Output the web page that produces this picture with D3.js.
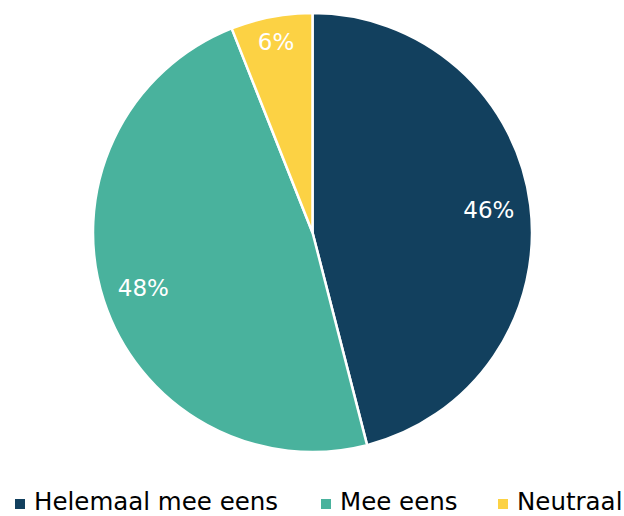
<!DOCTYPE html>
<html><head><meta charset="utf-8">
<script src="https://cdn.jsdelivr.net/npm/d3@7"></script>
<style>body{margin:0;background:#fff}svg{display:block}</style>
</head><body>
<svg id="c" width="624" height="516"></svg>
<script>
const categories = ["Helemaal mee eens", "Mee eens", "Neutraal"];
const values = [46, 48, 6];
const labels = ["46%", "48%", "6%"];
const colors = ["#12405E", "#49B29D", "#FCD244"];

const svg = d3.select("#c");
const cx = 312.5, cy = 232.5, R = 219.5;
const g = svg.append("g").attr("transform", `translate(${cx},${cy})`);
const pie = d3.pie().sort(null).value(d => d)(values);
const arc = d3.arc().innerRadius(0).outerRadius(R);
g.selectAll("path").data(pie).join("path")
  .attr("d", arc).attr("fill", (d, i) => colors[i])
  .attr("stroke", "#fff").attr("stroke-width", 2.5).attr("stroke-linejoin", "round");

const labelFactor = [0.81, 0.81, 0.885];
g.selectAll("text").data(pie).join("text")
  .attr("transform", (d, i) => {
    const r = R * labelFactor[i];
    const a = (d.startAngle + d.endAngle) / 2;
    return `translate(${r * Math.sin(a)},${-r * Math.cos(a)})`;
  })
  .attr("text-anchor", "middle").attr("dy", "0.36em")
  .attr("fill", "#fff").attr("font-family", "DejaVu Sans, sans-serif").attr("font-size", 23)
  .text((d, i) => labels[i]);

const legendX = [15, 321, 498];
const leg = svg.append("g");
categories.forEach((c, i) => {
  leg.append("rect").attr("x", legendX[i]).attr("y", 499).attr("width", 10).attr("height", 10).attr("fill", colors[i]);
  leg.append("text").attr("x", legendX[i] + 19).attr("y", 510)
    .attr("font-family", "DejaVu Sans, sans-serif").attr("font-size", 24.5).attr("fill", "#000").text(c);
});
</script>
</body></html>
